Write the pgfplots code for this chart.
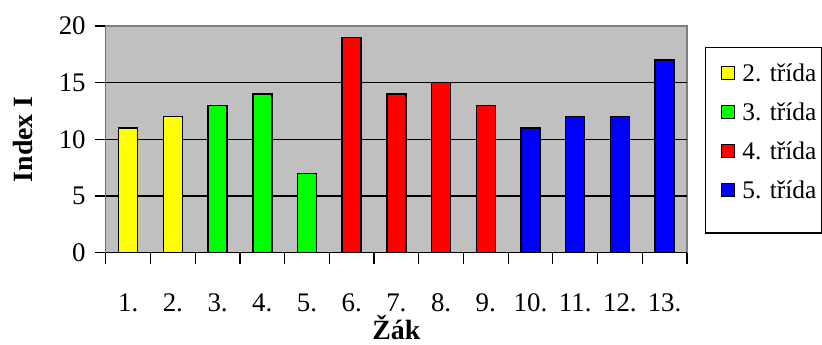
\documentclass[border=0pt]{standalone}
\usepackage{fontspec}
\setmainfont{Liberation Serif}
\usepackage{pgfplots}
\pgfplotsset{compat=1.18}

\definecolor{plotbg}{HTML}{C0C0C0}
\definecolor{framegray}{HTML}{808080}
\definecolor{cyellow}{HTML}{FFFF00}
\definecolor{cgreen}{HTML}{00FF00}
\definecolor{cred}{HTML}{FF0000}
\definecolor{cblue}{HTML}{0000FF}

\begin{document}
\begin{tikzpicture}[x=1bp,y=1bp]
% page area around the plot
\path (-106,-92) rectangle (716,253);
\begin{axis}[
  at={(0,0)}, anchor=south west,
  scale only axis, width=582bp, height=227bp,
  xmin=0.5, xmax=13.5, ymin=0, ymax=20,
  axis background/.style={fill=plotbg},
  axis line style={draw=framegray, line width=1.2bp},
  tick align=outside,
  xtick pos=lower, ytick pos=left,
  major tick length=11bp,
  tick style={black, line width=1.2bp},
  ytick={0,5,10,15,20},
  extra y ticks={5,10,15},
  extra y tick style={grid=major, major tick length=0bp, yticklabels={}},
  grid style={black, line width=1.2bp},
  xtick={0.5,1.5,...,13.5},
  xticklabels={},
  extra x ticks={1,2,...,13},
  extra x tick labels={1.,2.,3.,4.,5.,6.,7.,8.,9.,10.,11.,12.,13.},
  extra x tick style={major tick length=0bp},
  /pgf/number format/assume math mode=true,
  ticklabel style={font=\fontsize{27}{30}\selectfont, inner sep=0bp},
  xticklabel style={anchor=base, yshift=-59bp},
  yticklabel style={anchor=east, xshift=-9bp},
  xlabel={\textbf{Žák}},
  ylabel={\textbf{Index I}},
  label style={font=\fontsize{28}{32}\selectfont, inner sep=0bp},
  xlabel style={at={(axis description cs:0.5,-0.385)}, anchor=base},
  ylabel style={at={(axis description cs:-0.1426,0.5)}, anchor=center},
  ybar, bar width=19bp, bar shift=0bp,
  legend image code/.code={%
    \path[fill=none, draw=none] (-11bp,-27bp) rectangle (21bp,0bp);
    \draw[#1, draw=black, line width=1.1bp] (0bp,-6.5bp) rectangle (13bp,6.5bp);},
  legend cell align=left,
  legend style={at={(1,1)}, anchor=north west, xshift=18bp, yshift=-21bp,
    draw=black, line width=1.2bp, fill=white,
    font=\fontsize{25.5}{28}\selectfont,
    inner xsep=5bp, inner ysep=16bp, row sep=2.5bp,
    nodes={inner sep=0bp}},
]
\addplot[fill=cyellow, draw=black, line width=1.5bp] coordinates {(1,11) (2,12)};
\addlegendentry{2. třída}
\addplot[fill=cgreen, draw=black, line width=1.5bp] coordinates {(3,13) (4,14) (5,7)};
\addlegendentry{3. třída}
\addplot[fill=cred, draw=black, line width=1.5bp] coordinates {(6,19) (7,14) (8,15) (9,13)};
\addlegendentry{4. třída}
\addplot[fill=cblue, draw=black, line width=1.5bp] coordinates {(10,11) (11,12) (12,12) (13,17)};
\addlegendentry{5. třída}
% left and bottom axis lines are black
\draw[black, line width=1.3bp] (rel axis cs:0,1) -- (rel axis cs:0,0) -- (rel axis cs:1,0);
\end{axis}
\end{tikzpicture}
\end{document}
